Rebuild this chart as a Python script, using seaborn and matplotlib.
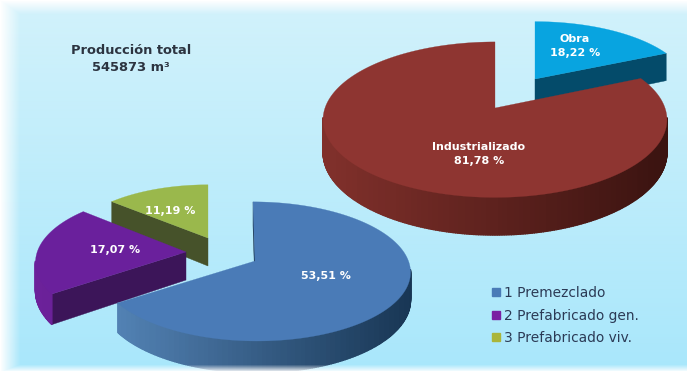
import numpy as np
import matplotlib
matplotlib.use("Agg")
import matplotlib.pyplot as plt
from matplotlib.patches import Patch
from matplotlib.colors import to_rgb
import seaborn as sns

# Data
origin_names = ["Obra", "Industrializado"]
origin_values = [18.22, 81.78]
type_names = ["1 Premezclado", "2 Prefabricado gen.", "3 Prefabricado viv."]
type_values = [53.51, 17.07, 11.19]
total_title = "Producción total"
total_volume = "545873 m³"

# Slice styling: top face, cut face, outer wall light -> dark
STYLE = {
    "Obra": ("#08a4e0", "#044b6a", "#00587c", "#003a55"),
    "Industrializado": ("#8e3531", "#4a1815", "#80302b", "#3a1310"),
    "Premezclado": ("#4a7bb7", "#17324f", "#5585b8", "#183654"),
    "Gen": ("#6a209c", "#3c1559", "#6c219a", "#4c1875"),
    "Viv": ("#9ab84c", "#46522a", "#6f8636", "#46522a"),
}
# Ellipse radii and perspective strength in canvas units
RX, RY, PERSP = 170.0, 76.0, 0.15
LOW_RX, LOW_RY = 155.0, 68.0


def project(cx, cy, rx, ry, theta, radius=1.0, lean=0.0):
    """Project a clockwise-from-north angle on a tilted disc to the canvas."""
    x, y = radius * np.sin(theta), radius * np.cos(theta)
    s = 1.0 / (1.0 + PERSP * y)
    return cx + rx * x * s + lean * rx * y, cy - ry * y * s


def draw_slice(ax, apex, rx, ry, depth, start, sweep, style, z, lean=0.0):
    top, cut, wall_a, wall_b = style
    cx, cy = apex
    thetas = np.radians(np.linspace(start, start + sweep, max(int(sweep * 1.5), 8)))
    px, py = project(cx, cy, rx, ry, thetas, lean=lean)
    wall = depth / (1.0 + PERSP * np.cos(thetas))

    # Cut faces show only when the wedge lies on the far side of the edge
    mid = np.radians(start + sweep / 2)
    mx, my = project(cx, cy, rx, ry, mid, lean=lean)
    for i in (0, -1):
        ex, ey = px[i] - cx, py[i] - cy
        side_down = ex * depth
        side_mid = ex * (my - cy) - ey * (mx - cx)
        if side_down * side_mid < 0:
            ax.fill([cx, px[i], px[i], cx],
                    [cy, py[i], py[i] + wall[i], cy + depth],
                    color=cut, lw=0.3, zorder=z)

    # Outer wall as a sequence of shaded strips, light to dark from left to right
    shades = sns.blend_palette([wall_a, wall_b], 64)
    x0, x1 = cx - rx, cx + rx
    for i in range(len(thetas) - 1):
        if np.cos(thetas[i]) > 0.02 - PERSP and np.cos(thetas[i + 1]) > 0.02 - PERSP:
            continue
        frac = np.clip((px[i] - x0) / (x1 - x0), 0, 1)
        ax.fill([px[i], px[i + 1], px[i + 1], px[i]],
                [py[i], py[i + 1], py[i + 1] + wall[i + 1], py[i] + wall[i]],
                color=shades[int(frac * 63)], lw=1.0, zorder=z)

    # Top face
    ax.fill(np.r_[cx, px], np.r_[cy, py], color=top, lw=0.2, zorder=z + 0.5)


def pct(v):
    return f"{v:.2f}".replace(".", ",") + " %"


sns.set_theme(style="white")
plt.rcParams["font.family"] = ["DejaVu Sans"]

fig = plt.figure(figsize=(6.87, 3.71), dpi=100)
ax = fig.add_axes([0, 0, 1, 1])
ax.set_xlim(0, 687)
ax.set_ylim(371, 0)
ax.axis("off")

# Backdrop: pale blue vertical gradient
h, w = 371, 687
top_c, bottom_c = np.array(to_rgb("#d2f2fb")), np.array(to_rgb("#a9e7fb"))
ramp = np.linspace(0, 1, h)[:, None, None]
ax.imshow(top_c * (1 - ramp) + bottom_c * ramp, extent=(0, w, h, 0), aspect="auto", zorder=0)

# Upper disc: origin of the concrete
obra_sweep = origin_values[0] / sum(origin_values) * 360
draw_slice(ax, (535, 79), RX * 0.9, 66.0, 29, 0, obra_sweep, STYLE["Obra"], 1)
draw_slice(ax, (495, 108), RX, RY, 32, obra_sweep, 360 - obra_sweep, STYLE["Industrializado"], 2)

# Lower disc: breakdown of the industrial share, normalised to a full turn
shares = np.array(type_values) / sum(type_values) * 360
draw_slice(ax, (208, 238), LOW_RX * 0.9, LOW_RY * 0.9, 28, shares[0] + shares[1], shares[2], STYLE["Viv"], 3)
draw_slice(ax, (186, 252), LOW_RX * 0.96, LOW_RY, 28, shares[0], shares[1], STYLE["Gen"], 4)
draw_slice(ax, (255, 261), LOW_RX * 0.99, LOW_RY, 27, 0, shares[0], STYLE["Premezclado"], 5, lean=-0.013)

# Value labels
label = dict(color="white", fontsize=8.0, fontweight="bold", ha="center", va="center", zorder=9, linespacing=1.45)
ax.text(575, 46, f"{origin_names[0]}\n{pct(origin_values[0])}", **label)
ax.text(479, 154, f"{origin_names[1]}\n{pct(origin_values[1])}", **label)
ax.text(326, 276, pct(type_values[0]), **label)
ax.text(115, 250, pct(type_values[1]), **label)
ax.text(170, 211, pct(type_values[2]), **label)

# Total production note
ax.text(131, 59, f"{total_title}\n{total_volume}", color="#2c3440", fontsize=9.4,
        fontweight="bold", ha="center", va="center", linespacing=1.35, zorder=9)

# Legend
handles = [Patch(color=c) for c in ("#4a7bb7", "#7a1fa2", "#aab53a")]
ax.legend(handles, type_names, loc="upper left", bbox_to_anchor=(492 / 687, 1 - 286 / 371),
          frameon=False, fontsize=9.9, handlelength=0.55, handleheight=0.55, handletextpad=0.35,
          labelspacing=0.62, labelcolor="#2b3a55", borderpad=0, borderaxespad=0)

# Soft white border fading into the backdrop
fade = np.zeros((h, w, 4))
fade[..., :3] = 1.0
yy, xx = np.mgrid[0:h, 0:w]
left = np.clip(1 - xx / 20, 0, 1)
upper = np.clip(1 - yy / 14, 0, 1)
lower = np.clip(1 - (h - 1 - yy) / 6, 0, 1) * 0.8
fade[..., 3] = np.maximum.reduce([left, upper, lower])
ax.imshow(fade, extent=(0, w, h, 0), aspect="auto", zorder=8)
ax.set_xlim(0, 687)
ax.set_ylim(371, 0)

fig.savefig("out.png", dpi=100)
